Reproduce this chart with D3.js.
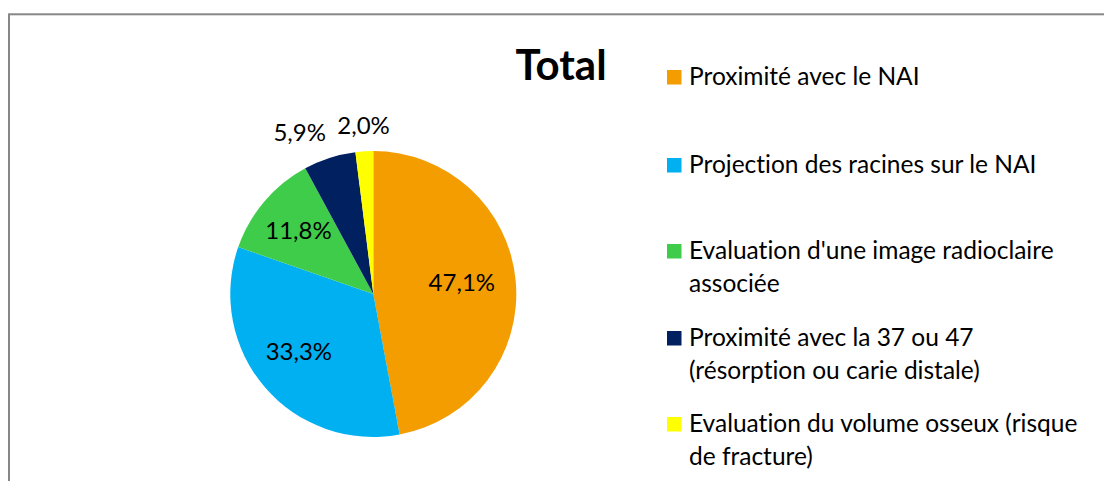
<!DOCTYPE html>
<html>
<head>
<meta charset="utf-8">
<script src="https://cdn.jsdelivr.net/npm/d3@7"></script>
<style>
  html, body { margin: 0; padding: 0; background: #fff; }
  svg { display: block; }
  text { font-family: Lato, "Open Sans", sans-serif; fill: #000; font-variant-ligatures: none; }
</style>
</head>
<body>
<svg id="chart" width="1104" height="481"></svg>
<script>
const title = "Total";
const categories = [
  "Proximité avec le NAI",
  "Projection des racines sur le NAI",
  "Evaluation d'une image radioclaire associée",
  "Proximité avec la 37 ou 47 (résorption ou carie distale)",
  "Evaluation du volume osseux (risque de fracture)"
];
const values = [47.1, 33.3, 11.8, 5.9, 2.0];
const labels = ["47,1%", "33,3%", "11,8%", "5,9%", "2,0%"];
const colors = ["#F49D00", "#00B0F0", "#3FCC4B", "#002060", "#FFFF00"];
const outsideLabel = [false, false, false, true, true];

const svg = d3.select("#chart");

// chart border
svg.append("rect")
  .attr("x", 9).attr("y", 14.3)
  .attr("width", 1200).attr("height", 600)
  .attr("fill", "#fff")
  .attr("stroke", "#878787")
  .attr("stroke-width", 2);

// title
svg.append("text")
  .attr("x", 561).attr("y", 80)
  .attr("text-anchor", "middle")
  .style("font-weight", "bold")
  .style("font-size", "42px")
  .text(title);

// pie
const cx = 373.3, cy = 294, R = 143;
const pie = d3.pie().sort(null).value(d => d)(values);
const arc = d3.arc().innerRadius(0).outerRadius(R);
const g = svg.append("g").attr("transform", `translate(${cx},${cy})`);

g.selectAll("path.slice").data(pie).join("path")
  .attr("class", "slice")
  .attr("d", arc)
  .attr("fill", (d, i) => colors[i]);

const labelArc = d3.arc().innerRadius(R * 0.65).outerRadius(R * 0.65);
const lfs = 24;
pie.forEach((d, i) => {
  if (!outsideLabel[i]) {
    const [x, y] = labelArc.centroid(d);
    g.append("text")
      .attr("x", x - 4).attr("y", y - 3)
      .attr("dy", "0.35em")
      .attr("text-anchor", "middle")
      .style("font-size", lfs + "px")
      .text(labels[i]);
  } else {
    const a = (d.startAngle + d.endAngle) / 2;
    const rr = R + 12;
    const px = Math.sin(a) * rr, py = -Math.cos(a) * rr;
    const s = Math.sin(a);
    const anchor = Math.abs(s) < 0.15 ? "middle" : (s < 0 ? "end" : "start");
    g.append("text")
      .attr("x", px).attr("y", py - 5)
      .attr("text-anchor", anchor)
      .style("font-size", lfs + "px")
      .text(labels[i]);
  }
});

// legend
const fs = 24.5;
const legX = 667, textX = 689, maxW = 1090 - textX;
const lineH = 32.5;
const firstBaselines = [85, 173, 259, 346, 432];
const leg = svg.append("g");
categories.forEach((c, i) => {
  const b = firstBaselines[i];
  leg.append("rect")
    .attr("x", legX).attr("y", b - 15)
    .attr("width", 14.5).attr("height", 14.5)
    .attr("fill", colors[i]);
  const t = leg.append("text")
    .attr("x", textX).attr("y", b)
    .style("font-size", fs + "px");
  const words = c.split(" ");
  let line = [], lineNo = 0;
  let tspan = t.append("tspan").attr("x", textX).attr("y", b);
  words.forEach(w => {
    line.push(w);
    tspan.text(line.join(" "));
    if (tspan.node().getComputedTextLength() > maxW && line.length > 1) {
      line.pop();
      tspan.text(line.join(" "));
      line = [w];
      lineNo++;
      tspan = t.append("tspan").attr("x", textX).attr("y", b + lineNo * lineH).text(w);
    }
  });
});
</script>
</body>
</html>
